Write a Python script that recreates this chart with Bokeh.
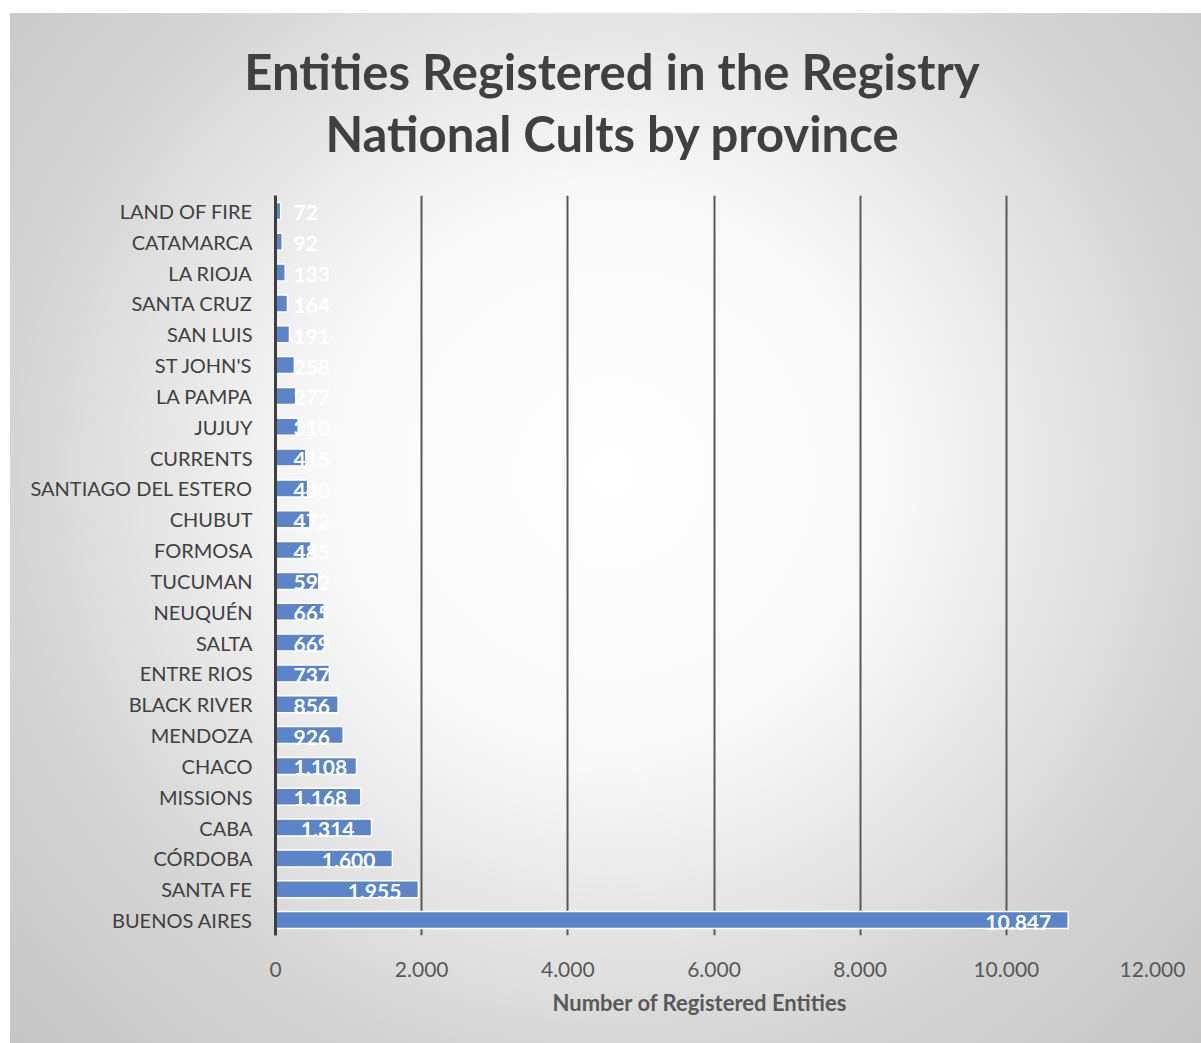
from bokeh.plotting import figure
from bokeh.layouts import column
from bokeh.models import ColumnDataSource, FactorRange, Range1d, Title, FixedTicker, CustomJSTickFormatter, Div
from bokeh.core.properties import value
from bokeh.embed import file_html
from bokeh.resources import INLINE

# Data (top to bottom as displayed)
provinces = ["LAND OF FIRE", "CATAMARCA", "LA RIOJA", "SANTA CRUZ", "SAN LUIS", "ST JOHN'S",
             "LA PAMPA", "JUJUY", "CURRENTS", "SANTIAGO DEL ESTERO", "CHUBUT", "FORMOSA",
             "TUCUMAN", "NEUQUÉN", "SALTA", "ENTRE RIOS", "BLACK RIVER", "MENDOZA", "CHACO",
             "MISSIONS", "CABA", "CÓRDOBA", "SANTA FE", "BUENOS AIRES"]
entities = [72, 92, 133, 164, 191, 258, 277, 310, 415, 440, 472, 485, 592, 665, 669,
            737, 856, 926, 1108, 1168, 1314, 1600, 1955, 10847]
x_ticks = [0, 2000, 4000, 6000, 8000, 10000, 12000]
title_lines = ["Entities Registered in the Registry", "National Cults by province"]
x_title = "Number of Registered Entities"

FONT = "Lato"

def fmt(v):
    return f"{v:,}".replace(",", ".")

labels = [fmt(v) for v in entities]
src = ColumnDataSource(dict(prov=provinces, val=entities, lab=labels))
small = [i for i, v in enumerate(entities) if v < 1200]
big = [i for i, v in enumerate(entities) if v >= 1200]
src_small = ColumnDataSource(dict(prov=[provinces[i] for i in small], val=[0] * len(small),
                                  lab=[labels[i] for i in small]))
src_big = ColumnDataSource(dict(prov=[provinces[i] for i in big], val=[entities[i] for i in big],
                                lab=[labels[i] for i in big]))

TITLE_H = 185
p = figure(width=1201, height=1043 - TITLE_H, output_backend="svg", toolbar_location=None,
           y_range=FactorRange(*reversed(provinces)), x_range=Range1d(0, 12000),
           min_border_left=275, min_border_right=49, min_border_top=195 - TITLE_H, min_border_bottom=108)
p.background_fill_alpha = 0
p.border_fill_alpha = 0
p.outline_line_color = None
p.title.visible = False

p.hbar(y="prov", right="val", height=0.55, source=src, fill_color="#5b84c9",
       line_color="white", line_width=1.5)

p.text(x="val", y="prov", text="lab", source=src_small, x_offset=18, y_offset=2,
       text_align="left", text_baseline="middle", text_color="white",
       text_font=value(FONT), text_font_style="bold", text_font_size="21px")
p.text(x="val", y="prov", text="lab", source=src_big, x_offset=-17, y_offset=2,
       text_align="right", text_baseline="middle", text_color="white",
       text_font=value(FONT), text_font_style="bold", text_font_size="21px")

# axes
p.xaxis.ticker = FixedTicker(ticks=x_ticks)
p.xaxis.formatter = CustomJSTickFormatter(code="return tick.toString().replace(/\\B(?=(\\d{3})+(?!\\d))/g, '.');")
p.xaxis.axis_line_color = None
p.xaxis.major_tick_line_color = None
p.xaxis.minor_tick_line_color = None
p.xaxis.major_label_standoff = 20
p.xaxis.major_label_text_font = FONT
p.xaxis.major_label_text_font_size = "21px"
p.xaxis.major_label_text_color = "#595959"

p.yaxis.axis_line_color = "#3f3f3f"
p.yaxis.axis_line_width = 3
p.yaxis.major_tick_line_color = None
p.yaxis.minor_tick_line_color = None
p.yaxis.major_label_standoff = 17
p.yaxis.major_label_text_font = FONT
p.yaxis.major_label_text_font_size = "20px"
p.yaxis.major_label_text_color = "#404040"

p.xgrid.grid_line_color = "#595959"
p.xgrid.grid_line_width = 2
p.ygrid.grid_line_color = None

xt = Title(text=x_title, align="left", offset=277, standoff=15, text_font=FONT,
           text_font_style="bold", text_font_size="22px", text_color="#595959")
p.add_layout(xt, "below")

title_div = Div(
    text="<div style=\"box-sizing:border-box;width:1201px;text-align:center;padding-left:23px;"
         "padding-top:40px;font-family:Lato;font-weight:bold;font-size:49px;line-height:62px;"
         "color:#404040;white-space:nowrap\">"
         + title_lines[0] + "<br>" + title_lines[1] + "</div>",
    width=1201, height=TITLE_H, margin=0)

layout = column(title_div, p, spacing=0, margin=0)
layout.styles = {"background": "radial-gradient(circle 820px at 600px 460px, #ffffff 0px, #f8f8f8 290px, #e3e3e3 470px, #d4d4d4 600px, #c6c6c6 820px) 10px 13px / 1191px 1030px no-repeat, #ffffff"}

open("out.html", "w").write(file_html(layout, INLINE))
